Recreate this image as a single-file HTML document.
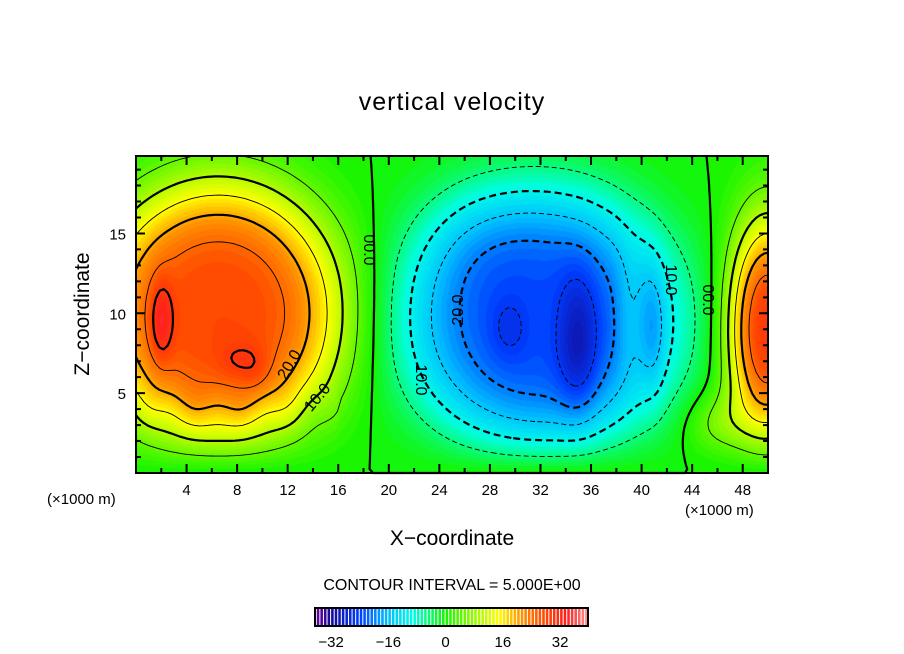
<!DOCTYPE html>
<html><head><meta charset="utf-8"><style>
body{margin:0;background:#fff;width:904px;height:654px;overflow:hidden;position:relative;font-family:"Liberation Sans",sans-serif;}
.t{position:absolute;white-space:nowrap;color:#000;}
</style></head><body>
<div class="t" style="left:0;width:904px;text-align:center;top:88px;font-size:25px;letter-spacing:1px">vertical velocity</div>
<canvas id="cv" width="632" height="317" style="position:absolute;left:136px;top:156px"></canvas>
<svg id="sv" width="904" height="654" style="position:absolute;left:0;top:0"></svg>
<div class="t" style="left:-2px;top:302px;font-size:21px;transform:rotate(-90deg);transform-origin:center;width:170px;text-align:center">Z−coordinate</div>
<div class="t" style="left:0;width:904px;text-align:center;top:527px;font-size:21px">X−coordinate</div>
<div class="t" style="left:47px;top:491px;font-size:15px">(×1000 m)</div>
<div class="t" style="left:685px;top:502px;font-size:15px">(×1000 m)</div>
<div class="t" style="left:0;width:904px;text-align:center;top:577px;font-size:16px">CONTOUR INTERVAL = 5.000E+00</div>
<script>
const xTicks=[4,8,12,16,20,24,28,32,36,40,44,48];
const yTicks=[5,10,15];
const cbTicks=[-32,-16,0,16,32];
// blobs: centre x, centre z, amplitude, sigma x, sigma z, shape power
const blobX=[6.5,2,8,9.5,32,35,29.5,41,50,46,26,39];
const blobZ=[10,9.5,7,6.5,9.5,8,9,9,9,3,15,10];
const blobA=[28,8,3,3,-23,-7,-3,-4,30,6,-2,3];
const blobSX=[10,0.9,1.5,1.2,11,1.6,1.5,0.9,3.2,2.5,5,1];
const blobSZ=[8.5,2.5,1.2,1.5,8.5,4.5,2,4,7,2,4,4];
const blobP=[1.7,1,1,1,1.7,1,1,1,1.2,1,1,1];
const levels=[-25,-20,-15,-10,-5,0,5,10,15,20,25,30];
const X0=136,Y0=156,W=632,H=317,XMAX=50,ZMAX=19.85;
function sx(x){return X0+x/XMAX*W;}
function sy(z){return Y0+H-z/ZMAX*H;}
function field(x,z){let v=0;for(let i=0;i<blobX.length;i++){const dx=(x-blobX[i])/blobSX[i],dz=(z-blobZ[i])/blobSZ[i];v+=blobA[i]*Math.exp(-Math.pow(dx*dx+dz*dz,blobP[i]));}
 v+=0.8*Math.sin(x*1.7)*Math.exp(-Math.pow((z-4)/1.5,2))*(x<16?1:0);
 return v*(1-Math.exp(-z/1.2));}
const stops=[[-36,110,0,160],[-32,20,10,150],[-24,0,60,255],[-16,0,190,255],[-9,0,255,230],[0,20,245,0],[8,150,250,0],[15,255,255,0],[21,255,150,0],[28,255,70,0],[34,255,30,30],[40,255,150,150]];
function col(v){v=Math.max(-36,Math.min(40,Math.floor(v)+0.5));for(let i=0;i<stops.length-1;i++){const a=stops[i],b=stops[i+1];if(v<=b[0]){const t=(v-a[0])/(b[0]-a[0]);return [0,1,2].map(k=>Math.round(a[k+1]+t*(b[k+1]-a[k+1])));}}return stops[stops.length-1].slice(1);}
const ctx=document.getElementById('cv').getContext('2d');
const img=ctx.createImageData(W,H);
for(let j=0;j<H;j++)for(let i=0;i<W;i++){const c=col(field((i+0.5)/W*XMAX,(H-j-0.5)/H*ZMAX));const p=(j*W+i)*4;img.data[p]=c[0];img.data[p+1]=c[1];img.data[p+2]=c[2];img.data[p+3]=255;}
ctx.putImageData(img,0,0);
const NS='http://www.w3.org/2000/svg';const sv=document.getElementById('sv');
function el(t,a,p){const e=document.createElementNS(NS,t);for(const k in a)e.setAttribute(k,a[k]);(p||sv).appendChild(e);return e;}
const NX=160,NZ=80,g=[];
for(let j=0;j<=NZ;j++){g[j]=[];for(let i=0;i<=NX;i++)g[j][i]=field(i/NX*XMAX,j/NZ*ZMAX);}
const cg=el('g',{});
function key(p){return p[0].toFixed(4)+','+p[1].toFixed(4);}
levels.forEach(L=>{const segs=[];
 for(let j=0;j<NZ;j++)for(let i=0;i<NX;i++){
  const v=[g[j][i],g[j][i+1],g[j+1][i+1],g[j+1][i]];const P=[[i,j],[i+1,j],[i+1,j+1],[i,j+1]];const pts=[];
  for(let k=0;k<4;k++){const a=v[k],b=v[(k+1)%4];if((a<L)!==(b<L)){const t=(L-a)/(b-a);const A=P[k],B=P[(k+1)%4];pts.push([A[0]+t*(B[0]-A[0]),A[1]+t*(B[1]-A[1])]);}}
  for(let k=0;k+1<pts.length;k+=2)segs.push([pts[k],pts[k+1]]);
 }
 const map={};segs.forEach((s,n)=>{[0,1].forEach(e=>{const kk=key(s[e]);(map[kk]=map[kk]||[]).push([n,e]);});});
 const used=new Array(segs.length).fill(false);let d='';
 function walk(chain,p){while(true){const c=(map[key(p)]||[]).find(q=>!used[q[0]]);if(!c)break;used[c[0]]=true;p=segs[c[0]][1-c[1]];chain.push(p);}return chain;}
 for(let n=0;n<segs.length;n++){if(used[n])continue;used[n]=true;
  const f=walk([segs[n][1]],segs[n][1]);const b=walk([],segs[n][0]).reverse();
  const chain=b.concat([segs[n][0]],f);
  d+=chain.map((p,m)=>(m?'L':'M')+sx(p[0]/NX*XMAX).toFixed(1)+' '+sy(p[1]/NZ*ZMAX).toFixed(1)).join('');}
 const thick=(Math.abs(L)%10===0);
 const p=el('path',{d:d,fill:'none',stroke:'#000','stroke-width':thick?2.2:0.9,'stroke-linejoin':'round'},cg);
 if(L<0)p.setAttribute('stroke-dasharray',thick?'7 4':'5 3');
 
 
});
const fr=el('rect',{x:X0,y:Y0,width:W,height:H,fill:'none',stroke:'#000','stroke-width':2});

let td='';
for(let x=2;x<XMAX;x+=2){const L=x%4===0?9:5;td+=`M${sx(x)} ${Y0+H}v${-L}M${sx(x)} ${Y0}v${L}`;}
for(let z=1;z<ZMAX;z++){const L=z%5===0?9:5;td+=`M${X0} ${sy(z)}h${L}M${X0+W} ${sy(z)}h${-L}`;}
const tk=el('path',{d:td,stroke:'#000','stroke-width':2});
xTicks.forEach(x=>{const t=el('text',{x:sx(x),y:495,'text-anchor':'middle','font-size':15,'font-family':'Liberation Sans'});t.textContent=x;});
yTicks.forEach(z=>{const t=el('text',{x:126,y:sy(z)+6,'text-anchor':'end','font-size':15,'font-family':'Liberation Sans'});t.textContent=z;});
[[368,250,90,'00.0'],[459,310,-90,'20.0'],[420,380,90,'10.0'],[290,365,-60,'20.0'],[318,398,-50,'10.0'],[670,280,90,'10.0'],[707,300,90,'00.0']].forEach(l=>{const t=el('text',{x:l[0],y:l[1],'text-anchor':'middle','font-size':16,'font-family':'Liberation Sans',transform:`rotate(${l[2]} ${l[0]} ${l[1]})`,'dominant-baseline':'middle'});t.textContent=l[3];});
const CB0=315,CB1=588,VMIN=-36.5,VMAX=39.8;function cx(v){return CB0+(v-VMIN)/(VMAX-VMIN)*(CB1-CB0);}
const cb=el('g',{});
for(let v=-36;v<40;v++){const c=col(v);el('rect',{x:cx(v),y:608,width:cx(v+1)-cx(v)-1,height:18,fill:`rgb(${c})`},cb);}
el('rect',{x:CB0,y:608,width:CB1-CB0,height:18,fill:'none',stroke:'#000','stroke-width':2},cb);
cbTicks.forEach(v=>{const t=el('text',{x:cx(v),y:647,'text-anchor':'middle','font-size':15,'font-family':'Liberation Sans'});t.textContent=(v<0?'−'+(-v):v);});
</script>
</body></html>
